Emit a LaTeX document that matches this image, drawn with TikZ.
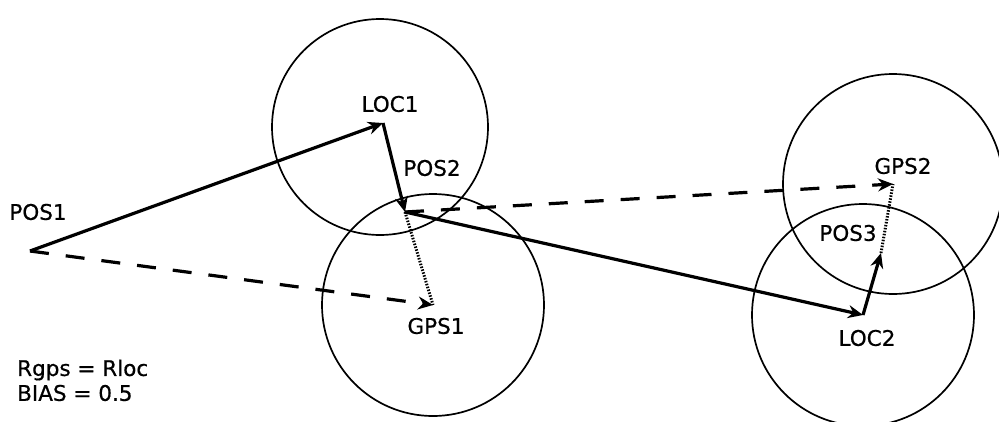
\documentclass[tikz,border=0pt]{standalone}
\usepackage{fontspec}
\setmainfont{DejaVu Sans}[FakeBold=0.6]
\usetikzlibrary{arrows.meta}
\begin{document}
\begin{tikzpicture}[x=1pt,y=-1pt,
  ring/.style={line width=1.7pt},
  tipstyle/.style={-{Stealth[length=15pt,width=13pt,inset=5pt]}},
  solidarrow/.style={line width=3.2pt,tipstyle},
  dasharrow/.style={line width=3.2pt,dash pattern=on 19pt off 17pt,tipstyle},
  dotline/.style={line width=3pt,dash pattern=on 1.5pt off 1.5pt},
  lbl/.style={font=\fontsize{21.5}{25}\selectfont,inner sep=0pt}]
\useasboundingbox (0,0) rectangle (999,421);
\clip (0,0) rectangle (999,421);
% points
\coordinate (pos1) at (30,251);
\coordinate (loc1) at (383,123);
\coordinate (pos2) at (405,212);
\coordinate (gps1) at (433,305);
\coordinate (loc2) at (863,315);
\coordinate (pos3) at (881,253);
\coordinate (gps2) at (893,184);
% circles
\draw[ring] (380,127) circle[radius=108];
\draw[ring] (gps1) circle[radius=111];
\draw[ring] (gps2) circle[radius=110];
\draw[ring] (loc2) circle[radius=111];
% connectors
\draw[solidarrow] (pos1) -- (loc1);
\draw[solidarrow] (loc1) -- (pos2);
\draw[solidarrow] (pos2) -- (loc2);
\draw[solidarrow] (loc2) -- (pos3);
\draw[dasharrow] (pos1) -- (gps1);
\draw[dasharrow] (pos2) -- (gps2);
\draw[dotline] (pos2) -- (gps1);
\draw[dotline] (pos3) -- (gps2);
% labels
\node[lbl] (tpos1) at (38,212) {POS1};
\node[lbl] (tloc1) at (390,104) {LOC1};
\node[lbl] (tpos2) at (432,168) {POS2};
\node[lbl] (tgps1) at (436,326) {GPS1};
\node[lbl] (tgps2) at (903,166) {GPS2};
\node[lbl] (tpos3) at (848,233) {POS3};
\node[lbl] (tloc2) at (867,338) {LOC2};
\node[lbl,anchor=west] (trg) at (17,370) {Rgps = Rloc};
\node[lbl,anchor=west] (tbias) at (17,393) {BIAS = 0.5};
\end{tikzpicture}
\end{document}
